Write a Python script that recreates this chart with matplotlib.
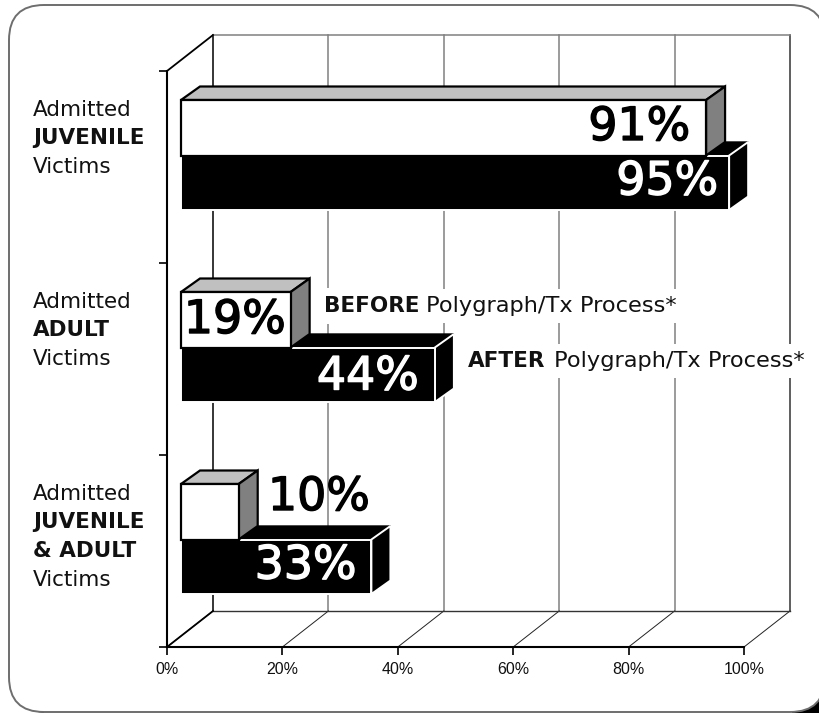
import matplotlib
matplotlib.use("Agg")
import matplotlib.pyplot as plt
import matplotlib.patheffects as pe
from matplotlib.patches import FancyBboxPatch, Polygon, Rectangle

# данные с картинки
category_lines = [
    [("Admitted", "normal"), ("JUVENILE", "bold"), ("Victims", "normal")],
    [("Admitted", "normal"), ("ADULT", "bold"), ("Victims", "normal")],
    [("Admitted", "normal"), ("JUVENILE", "bold"), ("& ADULT", "bold"), ("Victims", "normal")],
]
before_values = [91, 19, 10]
after_values = [95, 44, 33]
x_ticks = [0, 20, 40, 60, 80, 100]
x_tick_labels = ["0%", "20%", "40%", "60%", "80%", "100%"]

W, H = 819, 713
PX_X = 577 / 100   # пикселей на 1%
PX_Y = 192         # пикселей на категорию
FONT = "DejaVu Sans"

# глубина "3D" в единицах данных
WALL_DX, WALL_DY = 46 / PX_X, 36 / PX_Y
BAR_DX, BAR_DY = 19 / PX_X, 13.5 / PX_Y
BAR_START = 14 / PX_X
WHITE_TOP, WHITE_BOTTOM = 29 / PX_Y, 84.5 / PX_Y
BLACK_BOTTOM = 139 / PX_Y

fig = plt.figure(figsize=(W / 100, H / 100), dpi=100, facecolor="white")

# рамка; тень видна только в нижних углах
bg = fig.add_axes([0, 0, 1, 1], zorder=0)
bg.set_xlim(0, W)
bg.set_ylim(H, 0)
bg.axis("off")
bg.add_patch(Rectangle((792, 680), 27, 33, fc="black", ec="none"))
bg.add_patch(Polygon([(22, 695), (25, 705), (32, 711), (44, 713), (44, 695)], fc="black", ec="none"))
bg.add_patch(FancyBboxPatch((9, 5), 816, 707, boxstyle="round,pad=0,rounding_size=35",
                            fc="white", ec="#6e6e6e", lw=1.4))

ax = fig.add_axes([167 / W, (H - 647) / H, 577 / W, 576 / H], zorder=1)
ax.set_xlim(0, 100)
ax.set_ylim(3, 0)
ax.patch.set_visible(False)
for s in ax.spines.values():
    s.set_visible(False)

# задняя стенка
for t in x_ticks:
    color = "black" if t == 0 else ("#333333" if t == 100 else "#808080")
    ax.plot([t + WALL_DX] * 2, [-WALL_DY, 3 - WALL_DY], color=color, lw=1.1, zorder=1, clip_on=False)
    ax.plot([t, t + WALL_DX], [3, 3 - WALL_DY], color="#222222", lw=0.7, zorder=1, clip_on=False)
ax.plot([WALL_DX, 100 + WALL_DX], [-WALL_DY] * 2, color="#808080", lw=1.1, zorder=1, clip_on=False)
ax.plot([WALL_DX, 100 + WALL_DX], [3 - WALL_DY] * 2, color="#333333", lw=1.0, zorder=1, clip_on=False)

# левая стенка и передние оси
ax.plot([0, WALL_DX], [0, -WALL_DY], color="black", lw=1.3, zorder=2, clip_on=False)
ax.plot([0, WALL_DX], [3, 3 - WALL_DY], color="black", lw=1.3, zorder=2, clip_on=False)
ax.plot([0, 0], [0, 3], color="black", lw=1.5, zorder=2, clip_on=False)
ax.plot([0, 100], [3, 3], color="black", lw=1.5, zorder=2, clip_on=False)


def box_faces(value, y0, y1):
    x0 = BAR_START
    x1 = BAR_START + value
    front = [(x0, y0), (x1, y0), (x1, y1), (x0, y1)]
    top = [(x0, y0), (x0 + BAR_DX, y0 - BAR_DY), (x1 + BAR_DX, y0 - BAR_DY), (x1, y0)]
    side = [(x1, y0), (x1 + BAR_DX, y0 - BAR_DY), (x1 + BAR_DX, y1 - BAR_DY), (x1, y1)]
    return front, top, side


for i in range(3):
    y_top = i + WHITE_TOP
    y_mid = i + WHITE_BOTTOM
    y_bot = i + BLACK_BOTTOM
    # чёрный столбец (после)
    front, top, side = box_faces(after_values[i], y_mid, y_bot)
    ax.add_patch(Polygon(top, fc="black", ec="black", lw=1, zorder=3, clip_on=False))
    ax.add_patch(Polygon(side, fc="black", ec="white", lw=1.4, zorder=3, clip_on=False))
    ax.add_patch(Polygon(front, fc="black", ec="white", lw=1.4, zorder=3, clip_on=False))
    # белый столбец (до)
    front, top, side = box_faces(before_values[i], y_top, y_mid)
    ax.add_patch(Polygon(top, fc="#c0c0c0", ec="black", lw=1.6, zorder=4, clip_on=False))
    ax.add_patch(Polygon(side, fc="#808080", ec="black", lw=1.6, zorder=4, clip_on=False))
    ax.add_patch(Polygon(front, fc="white", ec="black", lw=1.6, zorder=4, clip_on=False))

# подписи значений: сдвиг от конца столбца в пикселях
before_label_dx = [-16, -5, 131]
after_label_dx = [-11, -16, -15]
before_label_dy = [-28, -27, -42]
after_label_dy = [-28, -25, -28]
for i in range(3):
    for values, y, dx, dy, col in (
        (before_values, i + WHITE_BOTTOM, before_label_dx, before_label_dy, "black"),
        (after_values, i + BLACK_BOTTOM, after_label_dx, after_label_dy, "white"),
    ):
        ax.annotate(f"{values[i]}%", (BAR_START + values[i], y),
                    xytext=(dx[i], -dy[i]), textcoords="offset pixels",
                    ha="right", va="center", fontsize=33, family=FONT, color=col, zorder=6,
                    path_effects=[pe.withStroke(linewidth=1.0, foreground=col)])

# подписи категорий
label_x = (33 - 167) / PX_X
first_line_y = [110, 302, 494]
for i, lines in enumerate(category_lines):
    for k, (txt, w) in enumerate(lines):
        y = (first_line_y[i] + 28.5 * k - 71) / PX_Y
        ax.text(label_x, y, txt, ha="left", va="center", fontsize=15.5, family=FONT, weight=w,
                color="#111111", clip_on=False, zorder=6)

# легенда внутри графика
legend_y = [(306 - 71) / PX_Y, (361 - 71) / PX_Y]
legend_bold = ["BEFORE", "AFTER"]
legend_x = [(324 - 167) / PX_X, (468 - 167) / PX_X]
legend_rest_x = [(426 - 167) / PX_X, (554 - 167) / PX_X]
for i in range(2):
    ax.text(legend_x[i], legend_y[i], legend_bold[i], ha="left", va="center", fontsize=15.5,
            family=FONT, weight="bold", color="#111111", zorder=5,
            bbox=dict(fc="white", ec="none", pad=6))
    ax.text(legend_rest_x[i], legend_y[i], "Polygraph/Tx Process*", ha="left", va="center",
            fontsize=16.2, family=FONT, color="#111111", zorder=5,
            bbox=dict(fc="white", ec="none", pad=5))

# оси
ax.set_xticks(x_ticks)
ax.set_xticklabels(x_tick_labels, family="Liberation Sans", fontsize=11.5, color="#111111")
ax.set_yticks([0, 1, 2, 3])
ax.set_yticklabels([])
ax.tick_params(axis="both", length=5.8, width=1.2, color="black", pad=5)

fig.savefig("out.png", dpi=100)
